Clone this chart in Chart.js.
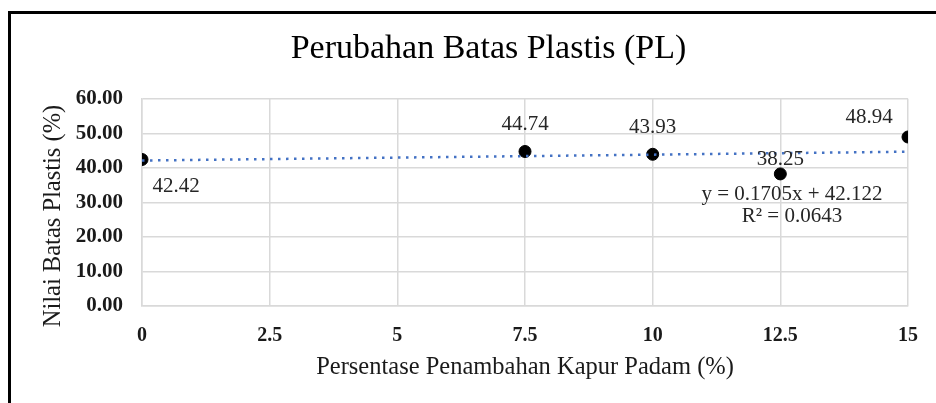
<!DOCTYPE html>
<html><head><meta charset="utf-8">
<script src="https://cdn.jsdelivr.net/npm/chart.js@4.4.1/dist/chart.umd.min.js"></script>
<style>
html,body{margin:0;padding:0;background:#fff;overflow:hidden;width:936px;height:403px}
#wrap{position:relative;width:936px;height:403px;overflow:hidden}
#frame{position:absolute;left:8px;top:11px;width:1000px;height:1000px;border-left:3px solid #000;border-top:3px solid #000;box-sizing:border-box}
canvas{position:absolute;left:0;top:0}
</style></head><body>
<div id="wrap"><div id="frame"></div><canvas id="c" width="936" height="403"></canvas></div>
<script>
const titleText = 'Perubahan Batas Plastis (PL)';
const xAxisTitle = 'Persentase Penambahan Kapur Padam (%)';
const yAxisTitle = 'Nilai Batas Plastis (%)';
const xValues = [0, 7.5, 10, 12.5, 15];
const yValues = [42.42, 44.74, 43.93, 38.25, 48.94];
const pointLabels = ['42.42', '44.74', '43.93', '38.25', '48.94'];
const trendX = [0, 15];
const trendY = [42.122, 44.6795];
const xTicks = [0, 2.5, 5, 7.5, 10, 12.5, 15];
const yTicks = [0, 10, 20, 30, 40, 50, 60];
const yTickLabels = ['0.00', '10.00', '20.00', '30.00', '40.00', '50.00', '60.00'];
const equationLines = ['y = 0.1705x + 42.122', 'R\u00B2 = 0.0643'];

const labelOffsets = [[34, 27], [0, -27], [0, -27], [0, -14], [-39, -20]];
const SERIF = '"Liberation Serif", "Times New Roman", serif';

const annot = {
  id: 'annot',
  afterDatasetsDraw(chart) {
    const {ctx, scales: {x, y}, chartArea} = chart;
    ctx.save();
    ctx.fillStyle = '#262626';
    ctx.font = '21px ' + SERIF;
    ctx.textAlign = 'center';
    ctx.textBaseline = 'middle';
    xValues.forEach((v, i) => {
      const px = x.getPixelForValue(v) + labelOffsets[i][0];
      const py = y.getPixelForValue(yValues[i]) + labelOffsets[i][1];
      ctx.fillText(pointLabels[i], px, py);
    });
    const ex = chartArea.left + 650;
    ctx.fillText(equationLines[0], ex, chartArea.top + 96);
    ctx.fillText(equationLines[1], ex, chartArea.top + 118);
    // y axis title
    ctx.translate(54, 216);
    ctx.rotate(-Math.PI / 2);
    ctx.font = '24.5px ' + SERIF;
    ctx.fillStyle = '#1a1a1a';
    ctx.fillText(yAxisTitle, 0, 0);
    ctx.restore();
  }
};

new Chart(document.getElementById('c'), {
  type: 'scatter',
  data: {
    datasets: [
      {
        type: 'line',
        data: trendX.map((v, i) => ({x: v, y: trendY[i]})),
        borderColor: '#4472C4',
        borderWidth: 2.5,
        borderDash: [2.5, 5.5],
        pointRadius: 0,
        fill: false
      },
      {
        data: xValues.map((v, i) => ({x: v, y: yValues[i]})),
        backgroundColor: '#000',
        borderColor: '#000',
        pointRadius: 6,
        pointHoverRadius: 6
      }
    ]
  },
  options: {
    responsive: false,
    animation: false,
    devicePixelRatio: 1,
    events: [],
    layout: {padding: {left: 61, right: 20, top: 0, bottom: 0}},
    plugins: {
      legend: {display: false},
      tooltip: {enabled: false},
      title: {
        display: true,
        text: titleText,
        color: '#000',
        font: {family: SERIF, size: 34, weight: 'normal'},
        padding: {top: 29, bottom: 29}
      }
    },
    scales: {
      x: {
        type: 'linear',
        min: 0, max: 15,
        afterBuildTicks(s) { s.ticks = xTicks.map(v => ({value: v})); },
        afterFit(s) { s.height = 97; },
        grid: {color: '#d9d9d9', lineWidth: 1.5, drawTicks: false},
        border: {color: '#d9d9d9', width: 1.5},
        ticks: {
          color: '#1a1a1a',
          padding: 18,
          maxRotation: 0,
          font: {family: SERIF, size: 20, weight: 'bold'},
          callback: (v) => String(v)
        },
        title: {
          display: true,
          text: xAxisTitle,
          color: '#1a1a1a',
          font: {family: SERIF, size: 24.5, weight: 'normal'},
          padding: {top: 0, bottom: 21}
        }
      },
      y: {
        min: 0, max: 60,
        afterBuildTicks(s) { s.ticks = yTicks.map(v => ({value: v})); },
        afterFit(s) { s.width = 81; },
        grid: {color: '#d9d9d9', lineWidth: 1.5, drawTicks: false},
        border: {color: '#d9d9d9', width: 1.5},
        ticks: {
          color: '#1a1a1a',
          padding: 19,
          font: {family: SERIF, size: 21, weight: 'bold'},
          callback: (v) => yTickLabels[yTicks.indexOf(v)]
        }
      }
    }
  },
  plugins: [annot]
});
</script>
</body></html>
